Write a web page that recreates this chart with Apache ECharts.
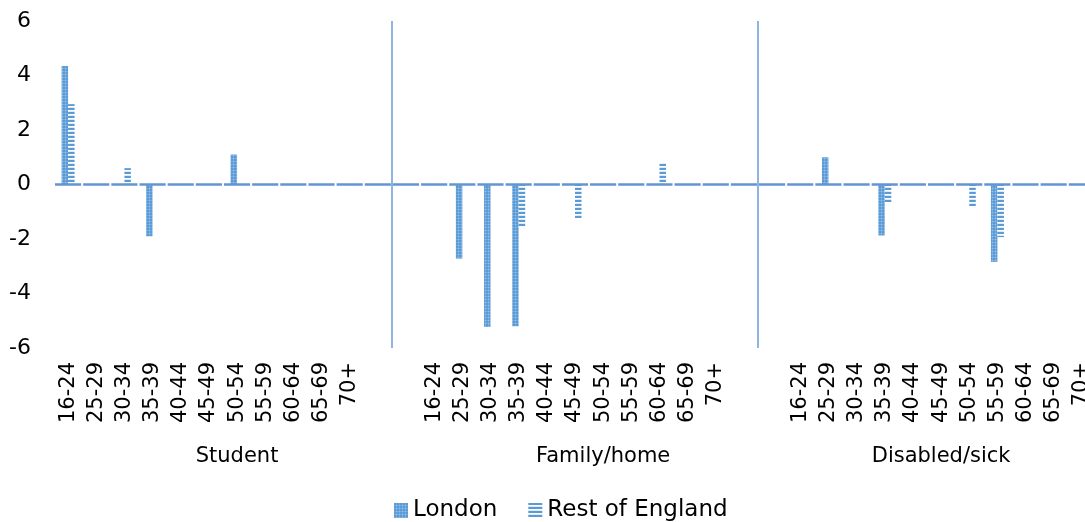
<!DOCTYPE html>
<html>
<head>
<meta charset="utf-8">
<script src="https://cdn.jsdelivr.net/npm/echarts@6/dist/echarts.min.js"></script>
<style>
html,body{margin:0;padding:0;background:#fff;overflow:hidden;width:1085px;height:522px;}
#chart{width:1096px;height:522px;}
</style>
</head>
<body>
<div id="chart"></div>
<script>
// ---- data ----
const ages = ['16-24','25-29','30-34','35-39','40-44','45-49','50-54','55-59','60-64','65-69','70+'];
const groups = ['Student','Family/home','Disabled/sick'];
const studentLondon  = [4.35, 0, 0, -1.9, 0, 0, 1.1, 0, 0, 0, 0];
const studentRest    = [2.95, 0, 0.6, 0, 0, 0, 0, 0, 0, 0, 0];
const familyLondon   = [0, -2.72, -5.23, -5.2, 0, 0, 0, 0, 0, 0, 0];
const familyRest     = [0, 0, 0, -1.56, 0, -1.26, 0, 0, 0.78, 0, 0];
const disabledLondon = [0, 1.0, 0, -1.87, 0, 0, 0, -2.84, 0, 0, 0];
const disabledRest   = [0, 0, 0, -0.67, 0, 0, -0.83, -1.93, 0, 0, 0];
const yTicks = [-6, -4, -2, 0, 2, 4, 6];

// ---- build category axis (two blank slots between groups) ----
const gap = ['', ''];
const categories = [].concat(ages, gap, ages, gap, ages);
const blanks = [null, null];
const londonData = [].concat(studentLondon, blanks, familyLondon, blanks, disabledLondon);
const restData = [].concat(studentRest, blanks, familyRest, blanks, disabledRest);
// group label row: name placed at the middle slot of each group span
const groupRow = categories.map(() => '');
groupRow[6] = groups[0];
groupRow[19] = groups[1];
groupRow[31] = groups[2];
// separator positions (category boundaries between the two blanks)
const separators = [12, 25];

// ---- patterns ----
function makeLondonPattern() {
  const c = document.createElement('canvas');
  c.width = 3; c.height = 3;
  const g = c.getContext('2d');
  g.fillStyle = '#5b9bd5'; g.fillRect(0, 0, 3, 3);
  g.fillStyle = '#72a9df'; g.fillRect(2, 0, 1, 3); g.fillRect(0, 2, 3, 1);
  g.fillStyle = '#94c0ea'; g.fillRect(2, 2, 1, 1);
  return c;
}
function makeRestPattern() {
  const c = document.createElement('canvas');
  c.width = 4; c.height = 4;
  const g = c.getContext('2d');
  g.fillStyle = '#ffffff'; g.fillRect(0, 0, 4, 4);
  g.fillStyle = '#5b9bd5'; g.fillRect(0, 0, 4, 2);
  g.fillStyle = '#dce9f7'; g.fillRect(0, 3, 4, 1);
  return c;
}
const londonColor = { image: makeLondonPattern(), repeat: 'repeat' };
const restColor = { image: makeRestPattern(), repeat: 'repeat' };

const FONT = 'DejaVu Sans';
const chart = echarts.init(document.getElementById('chart'), null, { renderer: 'canvas' });
chart.setOption({
  animation: false,
  backgroundColor: '#ffffff',
  grid: { left: 54, right: 0, top: 21, bottom: 174, containLabel: false },
  legend: {
    left: 389, top: 494,
    itemWidth: 14, itemHeight: 15, itemGap: 31,
    textStyle: { fontFamily: FONT, fontSize: 23, color: '#000', lineHeight: 23 },
    data: [
      { name: 'London', icon: 'rect' },
      { name: 'Rest of England', icon: 'rect' }
    ]
  },
  xAxis: [
    {
      type: 'category',
      data: categories,
      position: 'bottom',
      axisLine: { show: false, onZero: false },
      axisTick: { show: false },
      axisLabel: {
        interval: 0, rotate: 90, margin: 14,
        fontFamily: FONT, fontSize: 21, color: '#000'
      },
      splitLine: {
        show: true,
        interval: function (index) { return separators.indexOf(index) >= 0; },
        lineStyle: { color: '#8fb4e3', width: 2 }
      }
    },
    {
      type: 'category',
      data: groupRow,
      position: 'bottom',
      axisLine: { show: false, onZero: false },
      axisTick: { show: false },
      axisLabel: { interval: 0, margin: 98, fontFamily: FONT, fontSize: 21, color: '#000' },
      splitLine: { show: false }
    }
  ],
  yAxis: {
    type: 'value',
    min: yTicks[0], max: yTicks[yTicks.length - 1], interval: 2,
    axisLine: { show: false },
    axisTick: { show: false },
    splitLine: { show: false },
    axisLabel: { margin: 23, fontFamily: FONT, fontSize: 22, color: '#000' }
  },
  series: [
    {
      name: 'London', type: 'bar', xAxisIndex: 0,
      data: londonData, barWidth: 6.5, barGap: '0%',
      itemStyle: { color: londonColor },
      markLine: {
        silent: true, symbol: 'none', label: { show: false },
        lineStyle: { color: '#6495d0', width: 2.5, type: [26.16, 2], dashOffset: -1 },
        data: [{ yAxis: 0 }]
      }
    },
    {
      name: 'Rest of England', type: 'bar', xAxisIndex: 0,
      data: restData, barWidth: 6.5, barGap: '0%',
      itemStyle: { color: restColor }
    }
  ]
});
</script>
</body>
</html>
